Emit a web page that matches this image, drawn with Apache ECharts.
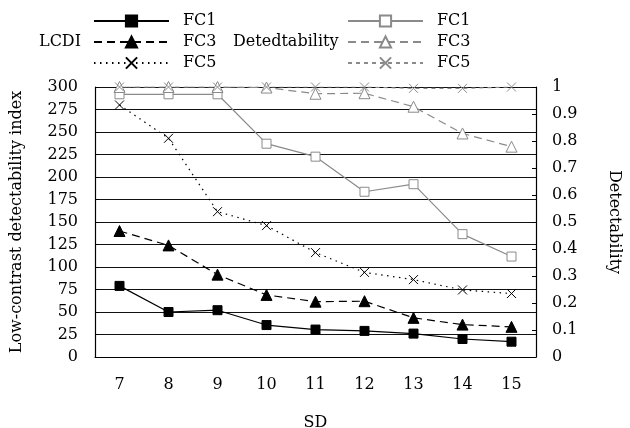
<!DOCTYPE html>
<html>
<head>
<meta charset="utf-8">
<script src="https://cdn.jsdelivr.net/npm/echarts@6/dist/echarts.min.js"></script>
<style>html,body{margin:0;padding:0;background:#fff;}#c{width:630px;height:428px;}</style>
</head>
<body>
<div id="c"></div>
<script>
const sd = ['7', '8', '9', '10', '11', '12', '13', '14', '15'];
const lcdiFC1 = [79, 50, 52, 35.5, 30.5, 29, 26, 20, 17];
const lcdiFC3 = [140, 124, 91.5, 69, 61.5, 62, 43.5, 36, 33.5];
const lcdiFC5 = [280, 243, 161.5, 146, 116, 94, 86, 74.5, 70.5];
const detFC1 = [0.973, 0.973, 0.973, 0.79, 0.742, 0.612, 0.64, 0.455, 0.372];
const detFC3 = [1, 1, 1, 0.998, 0.975, 0.977, 0.927, 0.828, 0.779];
const detFC5 = [1, 1, 1, 1, 1, 1, 0.995, 0.995, 1];

const FONT = 'DejaVu Serif';
const GRAY = '#8a8a8a';
const CROSS = 'path://M0,0L10,10M10,0L0,10';

function mk(name, data, axis, color, type, symbol, size, filled) {
  return {
    name: name, type: 'line', data: data, yAxisIndex: axis,
    symbol: symbol, symbolSize: size, showAllSymbol: true,
    lineStyle: { color: color, width: 1.2, type: type },
    itemStyle: { color: filled ? color : '#fff', borderColor: color, borderWidth: 1 },
    emphasis: { disabled: true },
    animation: false, z: axis === 1 ? 3 : 2
  };
}

const chart = echarts.init(document.getElementById('c'));
const legendCommon = {
  orient: 'vertical', itemWidth: 75, itemHeight: 14, itemGap: 5, padding: 0,
  textStyle: { fontFamily: FONT, fontSize: 16, lineHeight: 14, color: '#000', padding: [0, 0, 0, 9] },
  formatter: n => n.split(' ').pop(),
  selectedMode: false
};
chart.setOption({
  animation: false,
  textStyle: { fontFamily: FONT },
  grid: { left: 95, right: 94, top: 87, bottom: 71, containLabel: false, outerBoundsMode: 'none' },
  legend: [
    Object.assign({ left: 93, top: 13, data: ['LCDI FC1', 'LCDI FC3', 'LCDI FC5'] }, legendCommon),
    Object.assign({ left: 347, top: 13, data: ['Det FC1', 'Det FC3', 'Det FC5'] }, legendCommon)
  ],
  graphic: [
    { type: 'text', left: 39, top: 34, style: { text: 'LCDI', font: '16px "DejaVu Serif"', fill: '#000' } },
    { type: 'text', left: 233, top: 34, style: { text: 'Detedtability', font: '16px "DejaVu Serif"', fill: '#000' } }
  ],
  xAxis: {
    type: 'category', data: sd, boundaryGap: true,
    name: 'SD', nameLocation: 'middle', nameGap: 58,
    nameTextStyle: { fontFamily: FONT, fontSize: 16, color: '#000' },
    axisLine: { lineStyle: { color: '#000', width: 1.2 } },
    axisTick: { inside: true, length: 5, lineStyle: { color: '#000' } },
    axisLabel: { fontFamily: FONT, fontSize: 16, color: '#000', margin: 20 },
    splitLine: { show: false }
  },
  yAxis: [
    {
      type: 'value', min: 0, max: 300, interval: 25, position: 'left',
      name: 'Low-contrast detectability index', nameLocation: 'middle', nameGap: 70,
      nameTextStyle: { fontFamily: FONT, fontSize: 16, color: '#000' },
      axisLine: { show: true, lineStyle: { color: '#000', width: 1.2 } },
      axisTick: { show: true, inside: true, length: 4, lineStyle: { color: '#000' } },
      axisLabel: { fontFamily: FONT, fontSize: 16, color: '#000', margin: 17 },
      splitLine: { show: true, lineStyle: { color: '#111', width: 1 } }
    },
    {
      type: 'value', min: 0, max: 1, interval: 0.1, position: 'right',
      name: 'Detectability', nameLocation: 'middle', nameGap: 70, nameRotate: -90,
      nameTextStyle: { fontFamily: FONT, fontSize: 16, color: '#000' },
      axisLine: { show: true, lineStyle: { color: '#000', width: 1.2 } },
      axisTick: { show: true, inside: true, length: 4, lineStyle: { color: '#000' } },
      axisLabel: { fontFamily: FONT, fontSize: 16, color: '#000', margin: 16 },
      splitLine: { show: false }
    }
  ],
  series: [
    mk('LCDI FC1', lcdiFC1, 0, '#000', 'solid', 'rect', 9, true),
    mk('LCDI FC3', lcdiFC3, 0, '#000', [8, 5], 'triangle', 11, true),
    mk('LCDI FC5', lcdiFC5, 0, '#000', [1.5, 4.5], CROSS, 9, false),
    mk('Det FC1', detFC1, 1, GRAY, 'solid', 'rect', 9, false),
    mk('Det FC3', detFC3, 1, GRAY, [8, 5], 'triangle', 11, false),
    mk('Det FC5', detFC5, 1, GRAY, [4, 4], CROSS, 9, false)
  ]
});
</script>
</body>
</html>
